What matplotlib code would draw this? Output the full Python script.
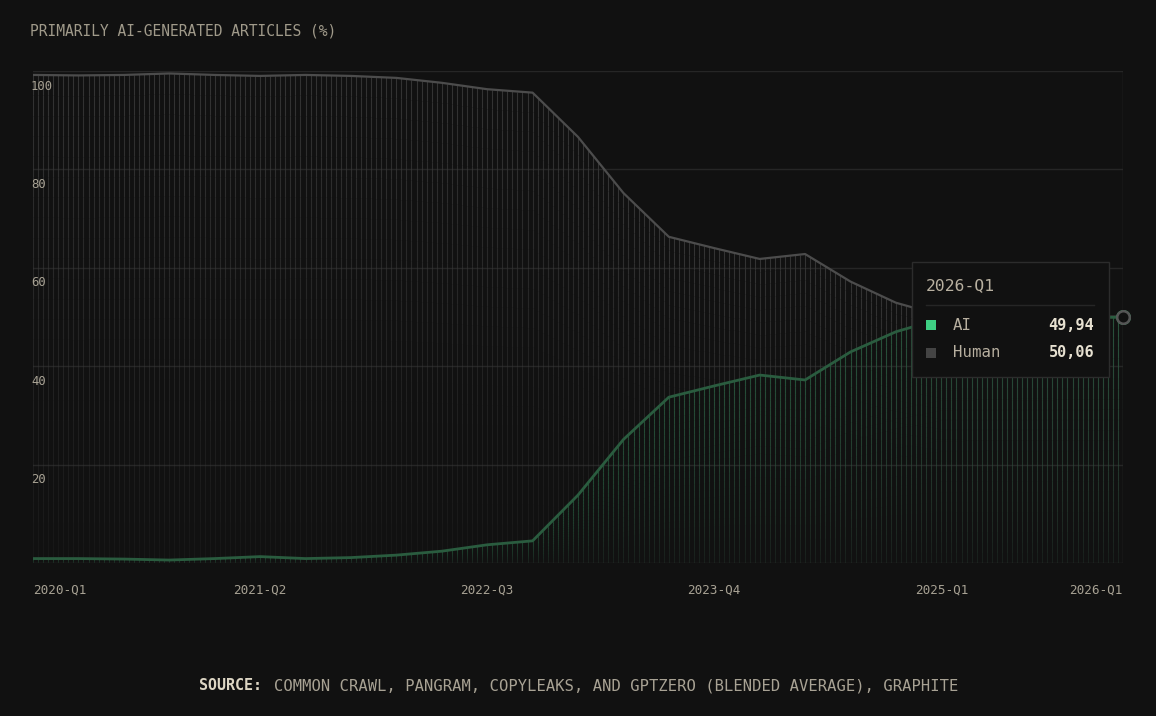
import numpy as np
import matplotlib.pyplot as plt
from matplotlib.patches import Rectangle
from matplotlib.lines import Line2D
from matplotlib.collections import LineCollection
from matplotlib.colors import to_rgb
from matplotlib.transforms import offset_copy

# quarterly share of primarily AI-generated articles (%)
quarters = ['2020-Q1', '2020-Q2', '2020-Q3', '2020-Q4',
            '2021-Q1', '2021-Q2', '2021-Q3', '2021-Q4',
            '2022-Q1', '2022-Q2', '2022-Q3', '2022-Q4',
            '2023-Q1', '2023-Q2', '2023-Q3', '2023-Q4',
            '2024-Q1', '2024-Q2', '2024-Q3', '2024-Q4',
            '2025-Q1', '2025-Q2', '2025-Q3', '2025-Q4',
            '2026-Q1']
ai = [0.9, 0.9, 0.8, 0.6, 0.9, 1.3, 0.9, 1.1, 1.6, 2.4, 3.7, 4.5,
      13.8, 25.1, 33.7, 36.0, 38.2, 37.2, 42.9, 47.0,
      49.7, 49.9, 49.8, 49.9, 49.94]
human = [99.2, 99.1, 99.2, 99.5, 99.2, 99.0, 99.2, 99.0, 98.6, 97.6, 96.3, 95.6,
         86.6, 75.2, 66.3, 64.0, 61.8, 62.8, 57.2, 52.9,
         50.3, 50.1, 50.2, 50.1, 50.06]
yticks = [20, 40, 60, 80, 100]
xtick_idx = [0, 5, 10, 15, 20, 24]

BG = '#111111'
W_PX, H_PX = 1156, 716
MONO = 'DejaVu Sans Mono'

def fx(px):
    return px / W_PX

def fy(py):
    return 1 - py / H_PX

def stripes(ax, xs, series, color, a_top, a_bot, nseg=24):
    # thin vertical lines under a series, fading towards the baseline
    hx = np.arange(0, (len(xs) - 1) * 9 + 1) / 9
    tops = np.interp(hx, xs, series)
    rgb = to_rgb(color)
    segs, cols = [], []
    for xi, t in zip(hx, tops):
        for k in range(nseg):
            segs.append([(xi, t * k / nseg), (xi, t * (k + 1) / nseg)])
            cols.append((*rgb, a_bot + (a_top - a_bot) * (k + 0.5) / nseg))
    ax.add_collection(LineCollection(segs, colors=cols, linewidths=0.8, zorder=2))

x = np.arange(len(quarters))

fig = plt.figure(figsize=(W_PX / 100, H_PX / 100), dpi=100, facecolor=BG)
ax = fig.add_axes([fx(33), fy(563), fx(1123) - fx(33), fy(71) - fy(563)])
ax.set_facecolor(BG)
ax.set_xlim(0, len(quarters) - 1)
ax.set_ylim(0, 100)
ax.axis('off')

# grid
for v in [0] + yticks:
    ax.axhline(v, color='#262626', lw=1, zorder=1)
ax.axvline(x[-1], color='#2c2c2c', lw=1, zorder=1)

stripes(ax, x, human, '#3a3a3a', 0.85, 0.15)
stripes(ax, x, ai, '#256040', 0.7, 0.12)

ax.plot(x, human, color='#4c4c4c', lw=1.6, zorder=3)
ax.plot(x, ai, color='#2a5c3f', lw=2, zorder=3)

ax.plot(x[-1], ai[-1], 'o', ms=9, mfc=BG, mec='#2f8a58', mew=1.8, clip_on=False, zorder=6)
ax.plot(x[-1], human[-1], 'o', ms=9, mfc=BG, mec='#555555', mew=1.8, clip_on=False, zorder=7)

# axis labels
tick_col = '#a8a294'
for v in yticks:
    ax.text(0, v, str(v), transform=offset_copy(ax.transData, fig, x=-2, y=-15, units='dots'),
            ha='left', va='center', fontsize=8.8, color=tick_col, family=MONO)
for i in xtick_idx:
    ha = 'left' if i == 0 else ('right' if i == x[-1] else 'center')
    ax.text(i, 0, quarters[i], transform=offset_copy(ax.transData, fig, y=-27, units='dots'),
            ha=ha, va='center', fontsize=9.1, color=tick_col, family=MONO)

fig.text(fx(30), fy(31), 'PRIMARILY AI-GENERATED ARTICLES (%)', ha='left', va='center',
         fontsize=10.5, color='#a09a8a', family=MONO)

fig.text(fx(199), fy(686), 'SOURCE:', ha='left', va='center', fontsize=10.8,
         color='#ddd6c4', family=MONO, fontweight='bold')
fig.text(fx(274), fy(686), 'COMMON CRAWL, PANGRAM, COPYLEAKS, AND GPTZERO (BLENDED AVERAGE), GRAPHITE',
         ha='left', va='center', fontsize=11.17, color='#a8a294', family=MONO)

# tooltip
fig.add_artist(Rectangle((fx(912), fy(377)), fx(1109) - fx(912), fy(262) - fy(377),
                         transform=fig.transFigure, fc=BG, ec='#2c2c2c', lw=1, zorder=10))
fig.text(fx(926), fy(286), quarters[-1], ha='left', va='center', fontsize=11.8,
         color='#b8b0a0', family=MONO, zorder=11)
fig.add_artist(Line2D([fx(926), fx(1094)], [fy(305), fy(305)], transform=fig.transFigure,
                      color='#262626', lw=1, zorder=11))
rows = [('AI', ai[-1], '#3ecf83', 325), ('Human', human[-1], '#444444', 353)]
for name, val, col, py in rows:
    fig.add_artist(Rectangle((fx(926), fy(py + 5)), fx(10), 10 / H_PX,
                             transform=fig.transFigure, fc=col, ec='none', zorder=11))
    fig.text(fx(953), fy(py), name, ha='left', va='center', fontsize=11.3,
             color='#b8b0a0', family=MONO, zorder=11)
    fig.text(fx(1094), fy(py), f'{val:.2f}'.replace('.', ','), ha='right', va='center',
             fontsize=11, color='#e6e0d0', family=MONO, fontweight='bold', zorder=11)

fig.savefig('out.png', dpi=100, facecolor=BG)
